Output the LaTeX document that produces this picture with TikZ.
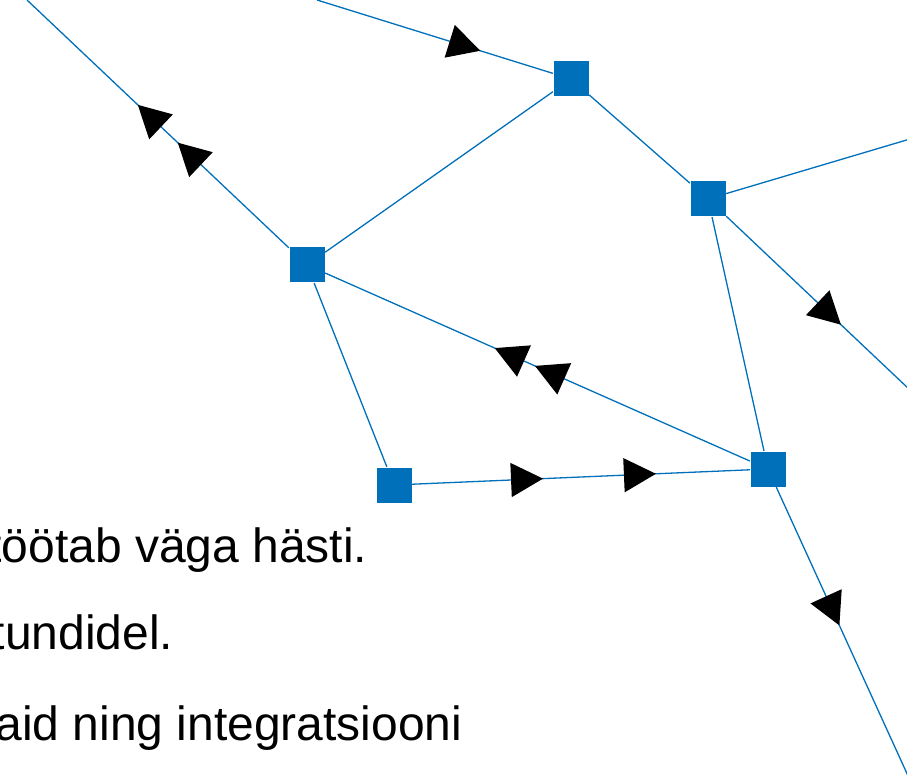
\documentclass[tikz,border=0pt]{standalone}
\usepackage{fontspec}
\setmainfont{Liberation Sans}
\usetikzlibrary{arrows.meta,decorations.markings}
\definecolor{netblue}{RGB}{0,112,186}

\begin{document}
\begin{tikzpicture}[x=1pt,y=-1pt,line width=1.3pt,draw=netblue,
    hub node/.style={rectangle,fill=netblue,minimum size=35pt,inner sep=0pt},
    flow at/.style={postaction={decorate},decoration={markings,
      mark=at position #1 with {\arrow{Triangle[length=32pt,width=34pt,color=black]}}}},
    flow twice/.style 2 args={postaction={decorate},decoration={markings,
      mark=at position #1 with {\arrow{Triangle[length=32pt,width=34pt,color=black]}},
      mark=at position #2 with {\arrow{Triangle[length=32pt,width=34pt,color=black]}}}},
    line text/.style={anchor=base east,inner sep=0pt,text=black,font=\fontsize{48}{58}\selectfont}]
    \useasboundingbox (0,0) rectangle (907,775);
    \clip (0,0) rectangle (907,775);
    % squares
    \node[hub node] (a) at (571,79) {};
    \node[hub node] (b) at (708,199) {};
    \node[hub node] (c) at (307,265) {};
    \node[hub node] (d) at (394,485) {};
    \node[hub node] (e) at (768,469) {};
    % loose ends at the border
    \coordinate (top) at (317,0);
    \coordinate (topleft) at (27,0);
    \coordinate (right) at (910,139);
    \coordinate (lowright) at (910,390);
    \coordinate (bottom) at (909,778);
    % connectors
    \draw[flow at=171pt] (top) -- (a);
    \draw (a) -- (b);
    \draw (a) -- (c);
    \draw (b) -- (right);
    \draw[flow at=158pt] (b) -- (lowright);
    \draw (b) -- (e);
    \draw[flow twice={153pt}{208pt}] (c) -- (topleft);
    \draw (c) -- (d);
    \draw[flow twice={235pt}{279pt}] (e) -- (c);
    \draw[flow twice={131pt}{244pt}] (d) -- (e);
    \draw[flow at=152pt] (e) -- (bottom);
    % text lines
    \node[line text] (l1) at (368,562) {töötab väga hästi.};
    \node[line text] (l2) at (174,649) {tundidel.};
    \node[line text] (l3) at (463,740) {aid ning integratsiooni};
\end{tikzpicture}
\end{document}
